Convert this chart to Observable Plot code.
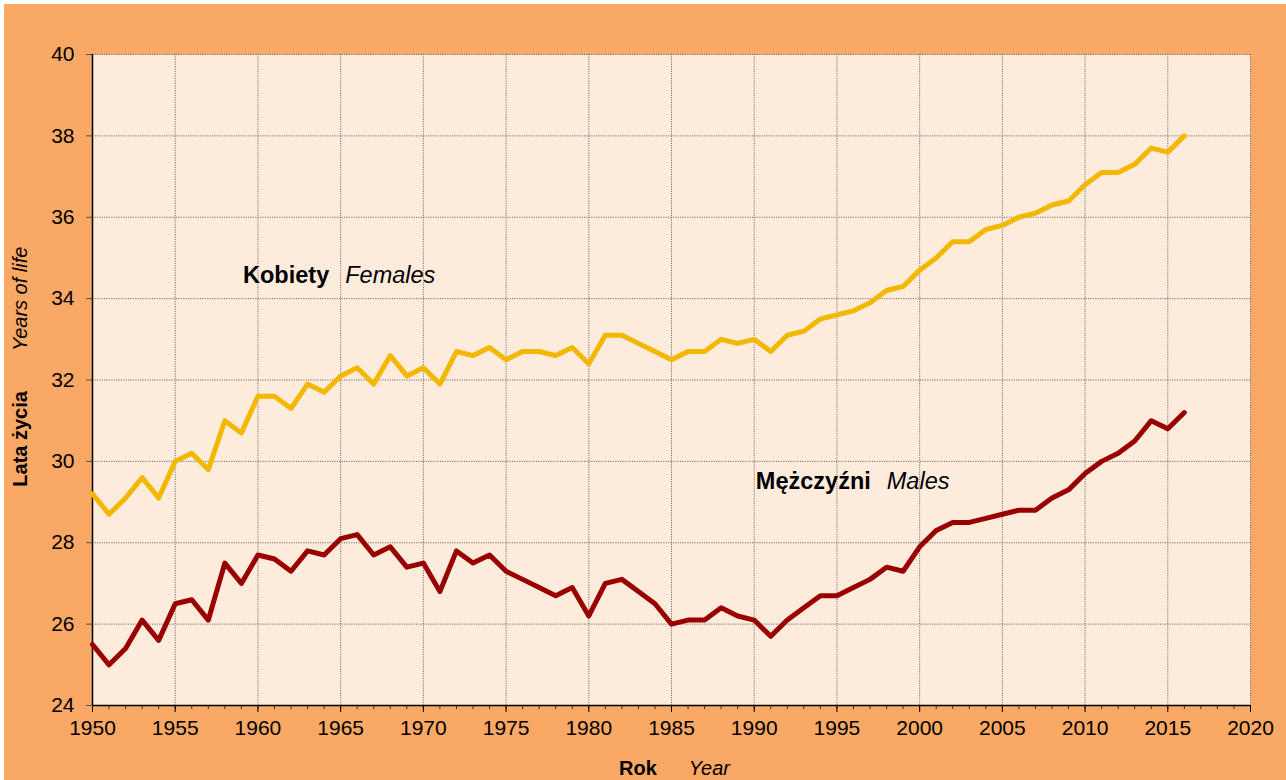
<!DOCTYPE html>
<html>
<head>
<meta charset="utf-8">
<script src="https://cdn.jsdelivr.net/npm/d3@7"></script>
<script src="https://cdn.jsdelivr.net/npm/@observablehq/plot@0.6"></script>
<style>
  html, body { margin: 0; padding: 0; background: #ffffff; }
  #wrap { position: absolute; left: 4px; top: 4px; width: 1282px; height: 776px; background: #F9A865; overflow: hidden; }
</style>
</head>
<body>
<div id="wrap"></div>
<script>
const years = [1950,1951,1952,1953,1954,1955,1956,1957,1958,1959,
  1960,1961,1962,1963,1964,1965,1966,1967,1968,1969,
  1970,1971,1972,1973,1974,1975,1976,1977,1978,1979,
  1980,1981,1982,1983,1984,1985,1986,1987,1988,1989,
  1990,1991,1992,1993,1994,1995,1996,1997,1998,1999,
  2000,2001,2002,2003,2004,2005,2006,2007,2008,2009,
  2010,2011,2012,2013,2014,2015,2016];
const females = [29.2,28.7,29.1,29.6,29.1,30.0,30.2,29.8,31.0,30.7,
  31.6,31.6,31.3,31.9,31.7,32.1,32.3,31.9,32.6,32.1,
  32.3,31.9,32.7,32.6,32.8,32.5,32.7,32.7,32.6,32.8,
  32.4,33.1,33.1,32.9,32.7,32.5,32.7,32.7,33.0,32.9,
  33.0,32.7,33.1,33.2,33.5,33.6,33.7,33.9,34.2,34.3,
  34.7,35.0,35.4,35.4,35.7,35.8,36.0,36.1,36.3,36.4,
  36.8,37.1,37.1,37.3,37.7,37.6,38.0];
const males = [25.5,25.0,25.4,26.1,25.6,26.5,26.6,26.1,27.5,27.0,
  27.7,27.6,27.3,27.8,27.7,28.1,28.2,27.7,27.9,27.4,
  27.5,26.8,27.8,27.5,27.7,27.3,27.1,26.9,26.7,26.9,
  26.2,27.0,27.1,26.8,26.5,26.0,26.1,26.1,26.4,26.2,
  26.1,25.7,26.1,26.4,26.7,26.7,26.9,27.1,27.4,27.3,
  27.9,28.3,28.5,28.5,28.6,28.7,28.8,28.8,29.1,29.3,
  29.7,30.0,30.2,30.5,31.0,30.8,31.2];
const xTicks = [1950,1955,1960,1965,1970,1975,1980,1985,1990,1995,2000,2005,2010,2015,2020];
const xMinorTicks = d3.range(1950, 2021);
const yTicks = [24,26,28,30,32,34,36,38,40];
const seriesLabels = {Kobiety: "Females", "Mężczyźni": "Males"};
const axisTitles = {y: ["Lata życia", "Years of life"], x: ["Rok", "Year"]};

const femaleData = years.map((y, i) => ({year: y, value: females[i]}));
const maleData = years.map((y, i) => ({year: y, value: males[i]}));

const gridStyle = {stroke: "#555", strokeOpacity: 0.8, strokeWidth: 1, strokeDasharray: "1.2,1.2"};

const plot = Plot.plot({
  width: 1282,
  height: 776,
  marginLeft: 88,
  marginRight: 36,
  marginTop: 50,
  marginBottom: 75,
  style: {background: "#F9A865", fontFamily: "'Liberation Sans', Arial, sans-serif", fontSize: "21px", color: "#000"},
  x: {domain: [1950, 2020], axis: null},
  y: {domain: [24, 40], axis: null},
  marks: [
    Plot.frame({fill: "#FDEBDC", stroke: null}),
    Plot.gridX(xTicks.filter(d => d > 1950), gridStyle),
    Plot.gridY(yTicks.filter(d => d > 24), gridStyle),
    Plot.axisX(xMinorTicks, {tickSize: 4, text: null, label: null, stroke: "#333"}),
    Plot.axisX(xTicks, {tickSize: 7, tickPadding: 8, tickFormat: d => String(d), label: null, fontSize: 21, stroke: "#000"}),
    Plot.axisY(yTicks, {tickSize: 6, tickPadding: 12, label: null, fontSize: 21, stroke: "#555"}),
    Plot.ruleX([1950], {stroke: "#000", strokeWidth: 1.5}),
    Plot.ruleY([24], {stroke: "#000", strokeWidth: 1.5}),
    Plot.line(femaleData, {x: "year", y: "value", stroke: "#F2B800", strokeWidth: 5, strokeLinejoin: "round", strokeLinecap: "round"}),
    Plot.line(maleData, {x: "year", y: "value", stroke: "#990000", strokeWidth: 5, strokeLinejoin: "round", strokeLinecap: "round"}),
    Plot.text(["Kobiety"], {x: 1959.1, y: 34.57, text: d => d, textAnchor: "start", fontWeight: "bold", fontSize: 23.5, fill: "#000"}),
    Plot.text(["Mężczyźni"], {x: 1990.1, y: 29.51, text: d => d, textAnchor: "start", fontWeight: "bold", fontSize: 23.5, fill: "#000"})
  ]
});

const svg = d3.select(plot);
svg.selectAll("text").each(function() {
  const t = d3.select(this);
  const txt = t.text();
  if (seriesLabels[txt]) {
    t.append("tspan").attr("dx", 16).attr("font-weight", "normal").attr("font-style", "italic").text(seriesLabels[txt]);
  }
});
const yt = svg.append("text")
  .attr("transform", "translate(22.5,482.7) rotate(-90)")
  .attr("font-size", 20).attr("text-anchor", "start").attr("fill", "#000");
yt.append("tspan").attr("font-weight", "bold").text(axisTitles.y[0]);
yt.append("tspan").attr("dx", 40).attr("font-style", "italic").text(axisTitles.y[1]);

const xt = svg.append("text")
  .attr("x", 615).attr("y", 771)
  .attr("font-size", 20).attr("text-anchor", "start").attr("fill", "#000");
xt.append("tspan").attr("font-weight", "bold").text(axisTitles.x[0]);
xt.append("tspan").attr("dx", 32).attr("font-style", "italic").text(axisTitles.x[1]);

document.getElementById("wrap").appendChild(plot);
</script>
</body>
</html>
